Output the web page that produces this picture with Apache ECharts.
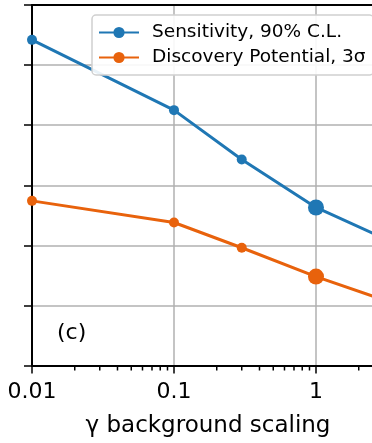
<!DOCTYPE html>
<html>
<head>
<meta charset="utf-8">
<script src="https://cdn.jsdelivr.net/npm/echarts@6/dist/echarts.min.js"></script>
<style>html,body{margin:0;padding:0;background:#fff}#chart{width:372px;height:443px}</style>
</head>
<body>
<div id="chart"></div>
<script>
const xValues = [0.01, 0.1, 0.3, 1, 3];
const sensitivity = [5.42, 4.25, 3.43, 2.63, 2.12];
const discovery = [2.74, 2.38, 1.96, 1.48, 1.09];
const highlightX = 1;
const xMin = 0.01;
const xMax = 2.48;
const majorTicks = [0.01, 0.1, 1];
const majorLabels = ['0.01', '0.1', '1'];
const minorTicks = [0.02,0.03,0.04,0.05,0.06,0.07,0.08,0.09,0.2,0.3,0.4,0.5,0.6,0.7,0.8,0.9,2];
const seriesNames = ['Sensitivity, 90% C.L.', 'Discovery Potential, 3σ'];

const FONT = 'DejaVu Sans';
function buildData(ys) {
  return xValues.map((x, i) => x === highlightX ? {value: [x, ys[i]], symbolSize: 16} : [x, ys[i]]);
}
const chart = echarts.init(document.getElementById('chart'), null, {renderer: 'canvas'});
chart.setOption({
  animation: false,
  backgroundColor: '#fff',
  grid: {left: 32, top: 5, right: 0, bottom: 77, containLabel: false},
  legend: {
    orient: 'vertical', left: 92, top: 15,
    data: seriesNames,
    backgroundColor: 'rgba(255,255,255,0.9)',
    borderColor: '#d0d0d0', borderWidth: 1.5, borderRadius: 4,
    padding: [8, 8, 8, 6],
    itemWidth: 40, itemHeight: 14, itemGap: 6,
    textStyle: {fontFamily: FONT, fontSize: 18.5, color: '#000', padding: [0, 0, 0, 8]}
  },
  xAxis: [
    {
      type: 'log', logBase: 10, min: xMin, max: xMax, position: 'bottom',
      name: 'γ background scaling', nameLocation: 'middle', nameGap: 50,
      nameTextStyle: {fontFamily: FONT, fontSize: 23, lineHeight: 22, color: '#000', padding: [0, 0, 0, 12]},
      axisLine: {show: true, lineStyle: {color: '#000', width: 2}},
      axisTick: {show: true, inside: false, length: 8, lineStyle: {color: '#000', width: 1.5}, customValues: majorTicks},
      axisLabel: {show: true, margin: 16, fontFamily: FONT, fontSize: 22, lineHeight: 22, color: '#000',
        customValues: majorTicks,
        formatter: v => { const i = majorTicks.findIndex(t => Math.abs(t - v) < 1e-9); return i >= 0 ? majorLabels[i] : ''; }},
      splitLine: {show: true, lineStyle: {color: '#b0b0b0', width: 1.5}},
      minorTick: {show: false}
    },
    {
      type: 'log', logBase: 10, min: xMin, max: xMax, position: 'top',
      axisLine: {show: true, lineStyle: {color: '#000', width: 2}},
      axisTick: {show: false}, axisLabel: {show: false}, splitLine: {show: false}
    }
  ],
  yAxis: {
    type: 'value', min: 0, max: 6, interval: 1,
    axisLine: {show: true, lineStyle: {color: '#000', width: 2}},
    axisTick: {show: true, inside: false, length: 8, lineStyle: {color: '#000', width: 1.5}},
    axisLabel: {show: false},
    splitLine: {show: true, lineStyle: {color: '#b0b0b0', width: 1.5}}
  },
  graphic: [{
    type: 'text', left: 57, top: 322,
    style: {text: '(c)', fontFamily: FONT, fontSize: 22, fill: '#000'}
  }],
  series: [
    {
      name: seriesNames[0], type: 'line', xAxisIndex: 0, data: buildData(sensitivity),
      symbol: 'circle', symbolSize: 10, color: '#1f77b4',
      lineStyle: {width: 3, color: '#1f77b4'}, itemStyle: {color: '#1f77b4'}, z: 3
    },
    {
      name: seriesNames[1], type: 'line', xAxisIndex: 0, data: buildData(discovery),
      symbol: 'circle', symbolSize: 10, color: '#e8620c',
      lineStyle: {width: 3, color: '#e8620c'}, itemStyle: {color: '#e8620c'}, z: 3
    },
    {
      name: 'minorTicks', type: 'custom', xAxisIndex: 0, yAxisIndex: 0, silent: true, clip: false, z: 10,
      encode: {x: 0, y: 1},
      data: minorTicks.map(v => [v, 0]),
      renderItem: (params, api) => {
        const p = api.coord([api.value(0), api.value(1)]);
        return {type: 'line', z2: 100, shape: {x1: p[0], y1: p[1], x2: p[0], y2: p[1] + 5},
          style: {stroke: '#000', lineWidth: 1.5}};
      }
    }
  ]
});
</script>
</body>
</html>
